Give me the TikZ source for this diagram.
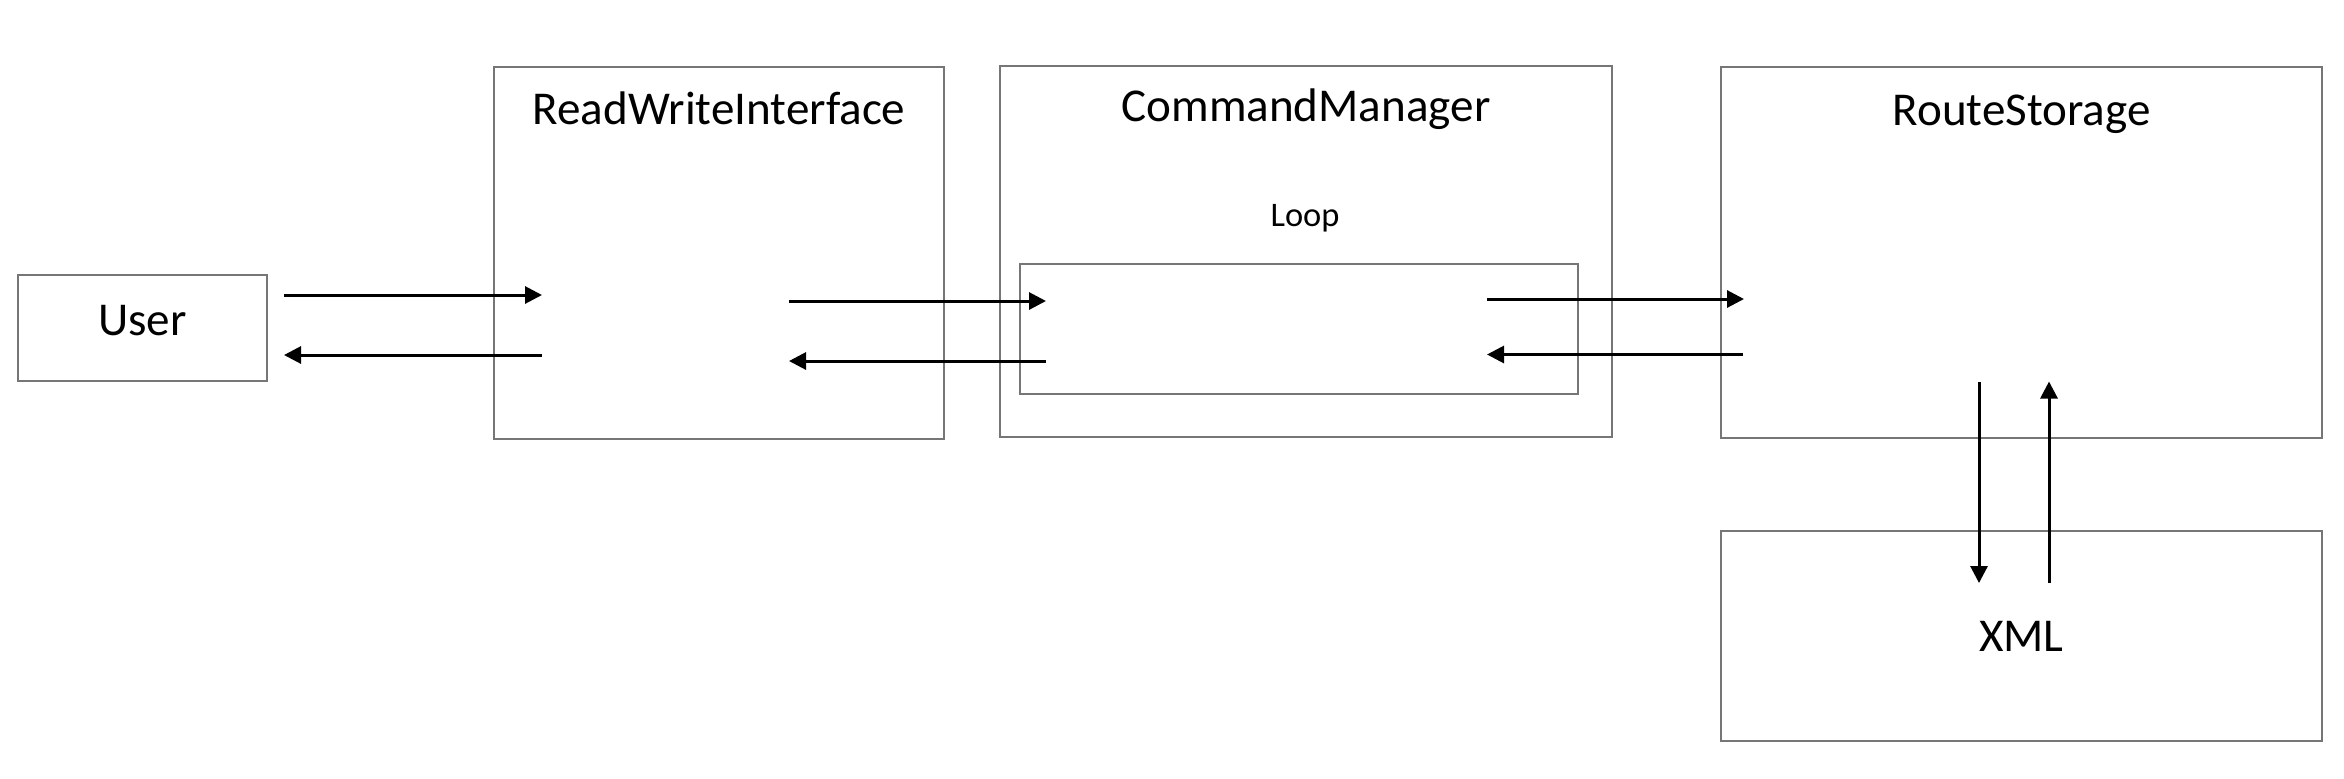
\documentclass[tikz,border=0pt]{standalone}
\usepackage{fontspec}
\setsansfont{Carlito}
\usetikzlibrary{positioning, arrows.meta}
\definecolor{boxline}{RGB}{118,118,118}
\tikzset{
  box/.style={
    draw=boxline, line width=0.45pt, inner sep=0pt,
    font=\sffamily\fontsize{13.4}{16}\selectfont
  },
  title/.style={
    anchor=base, inner sep=0pt,
    font=\sffamily\fontsize{13.4}{16}\selectfont
  },
  flow/.style={-{Triangle[length=0.17cm, width=0.17cm]}, line width=0.85pt, black}
}

\begin{document}
\begin{tikzpicture}[x=1cm, y=1cm]
  \useasboundingbox (0,0) rectangle (23.44,7.78);
  % boxes
  \node[box, minimum width=2.49cm, minimum height=1.06cm, text depth=0.15cm] (user) at (1.425,4.50) {User};
  \node[box, minimum width=4.50cm, minimum height=3.72cm] (rwi) at (7.19,5.25) {};
  \node[box, minimum width=6.12cm, minimum height=3.71cm] (cmdmgr) at (13.06,5.265) {};
  \node[box, minimum width=5.58cm, minimum height=1.30cm] (loop) at (12.99,4.49) {};
  \node[box, minimum width=6.01cm, minimum height=3.71cm] (routes) at (20.215,5.255) {};
  \node[box, minimum width=6.01cm, minimum height=2.10cm] (xml) at (20.215,1.42) {XML};
  % titles
  \node[title] (rwititle) at ([yshift=-0.58cm]rwi.north) {ReadWriteInterface};
  \node[title] (cmdtitle) at ([yshift=-0.56cm]cmdmgr.north) {CommandManager};
  \node[title] (rstitle) at ([yshift=-0.59cm]routes.north) {RouteStorage};
  \node[title, font=\sffamily\fontsize{9.8}{12}\selectfont] (looptitle) at ([xshift=0.06cm, yshift=0.37cm]loop.north) {Loop};
  % arrow ends
  \coordinate (userR1) at (2.84,4.83);
  \coordinate (rwiL1) at (5.42,4.83);
  \coordinate (userR2) at (2.84,4.23);
  \coordinate (rwiL2) at (5.42,4.23);
  \coordinate (rwiR1) at (7.89,4.77);
  \coordinate (loopL1) at (10.46,4.77);
  \coordinate (rwiR2) at (7.89,4.17);
  \coordinate (loopL2) at (10.46,4.17);
  \coordinate (loopR1) at (14.87,4.79);
  \coordinate (rsL1) at (17.44,4.79);
  \coordinate (loopR2) at (14.87,4.235);
  \coordinate (rsL2) at (17.43,4.235);
  \coordinate (rsB1) at (19.79,3.965);
  \coordinate (xmlT1) at (19.79,1.95);
  \coordinate (rsB2) at (20.49,3.965);
  \coordinate (xmlT2) at (20.49,1.95);
  % arrows
  \draw[flow] (userR1) -- (rwiL1);
  \draw[flow] (rwiL2) -- (userR2);
  \draw[flow] (rwiR1) -- (loopL1);
  \draw[flow] (loopL2) -- (rwiR2);
  \draw[flow] (loopR1) -- (rsL1);
  \draw[flow] (rsL2) -- (loopR2);
  \draw[flow] (rsB1) -- (xmlT1);
  \draw[flow] (xmlT2) -- (rsB2);
\end{tikzpicture}
\end{document}
